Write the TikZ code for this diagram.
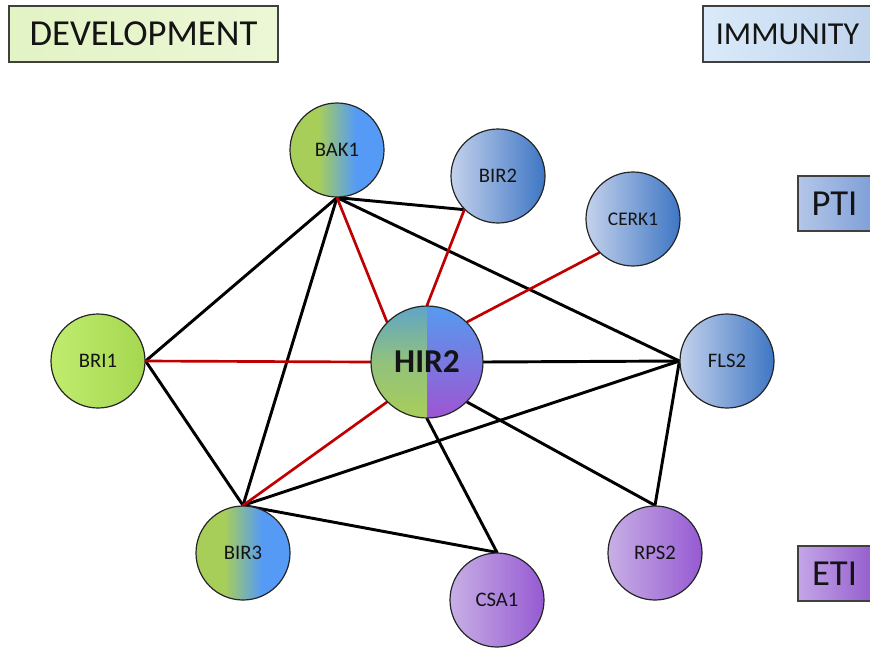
\documentclass[tikz,border=0pt]{standalone}
\usepackage{fontspec}
\setmainfont{Carlito}
\usetikzlibrary{backgrounds}
\definecolor{nodeG}{RGB}{168,206,90}
\definecolor{nodeB}{RGB}{85,155,245}
\definecolor{briL}{RGB}{192,236,110}
\definecolor{briR}{RGB}{165,215,80}
\definecolor{blL}{RGB}{196,210,236}
\definecolor{blR}{RGB}{62,118,196}
\definecolor{puL}{RGB}{200,175,230}
\definecolor{puR}{RGB}{150,90,210}
\definecolor{hirT}{RGB}{95,165,200}
\definecolor{hirBlue}{RGB}{85,155,240}
\definecolor{hirPurple}{RGB}{158,85,210}
\definecolor{devL}{RGB}{226,243,196}
\definecolor{devR}{RGB}{236,247,214}
\definecolor{immL}{RGB}{218,234,250}
\definecolor{immR}{RGB}{192,212,236}
\definecolor{ptiL}{RGB}{180,198,232}
\definecolor{ptiR}{RGB}{128,160,216}
\definecolor{etiL}{RGB}{196,166,232}
\definecolor{etiR}{RGB}{150,95,206}
\definecolor{redE}{RGB}{192,0,0}
\definecolor{txt}{RGB}{20,20,20}
\pgfdeclarehorizontalshading{gbshade}{100bp}{color(0bp)=(nodeG); color(40bp)=(nodeG); color(60bp)=(nodeB); color(100bp)=(nodeB)}
\begin{document}
\begin{tikzpicture}[x=0.75pt,y=-0.75pt,
  prot/.style={circle, draw=black!85, line width=0.9pt, minimum size=70.5pt, inner sep=0pt, text=txt, font=\fontsize{15.5}{18}\selectfont},
  gbnode/.style={prot, shade, shading=gbshade},
  grnode/.style={prot, left color=briL, right color=briR},
  blnode/.style={prot, left color=blL, right color=blR},
  punode/.style={prot, left color=puL, right color=puR},
  lbox/.style={draw=black!75, line width=0.8pt, inner sep=0pt, minimum height=42pt, text=txt, font=\fontsize{27.5}{32}\selectfont},
  blk/.style={draw=black, line width=2.2pt, line cap=round},
  red/.style={draw=redE, line width=2pt, line cap=round}]
\useasboundingbox (0,0) rectangle (870,647);
\clip (0,0) rectangle (870,647);
% label boxes
\node[lbox, minimum width=201.75pt, left color=devL, right color=devR] (dev) at (143.5,34) {DEVELOPMENT};
\node[lbox, minimum width=126.75pt, left color=immL, right color=immR, font=\fontsize{24}{28}\selectfont] (imm) at (787.5,34) {IMMUNITY};
\node[lbox, minimum width=54.75pt, minimum height=41.25pt, left color=ptiL, right color=ptiR] (pti) at (834.5,203.5) {PTI};
\node[lbox, minimum width=54.75pt, minimum height=41.25pt, left color=etiL, right color=etiR] (eti) at (834.5,573.5) {ETI};
% proteins
\node[gbnode] (BAK1) at (337,150) {BAK1};
\node[gbnode] (BIR3) at (243,553) {BIR3};
\node[grnode] (BRI1) at (98,361) {BRI1};
\node[blnode] (BIR2) at (498,176) {BIR2};
\node[blnode, font=\fontsize{14.5}{17}\selectfont] (CERK1) at (633,219) {CERK1};
\node[blnode] (FLS2) at (727,361) {FLS2};
\node[punode] (RPS2) at (655,553) {RPS2};
\node[punode] (CSA1) at (497,600) {CSA1};
\node[prot, minimum size=84pt, font=\fontsize{25}{28}\selectfont\bfseries,
  path picture={
    \shade[top color=hirT, bottom color=nodeG, middle color=nodeG!70!hirT]
      (path picture bounding box.north west) rectangle (path picture bounding box.south);
    \shade[top color=hirBlue, bottom color=hirPurple]
      (path picture bounding box.north) rectangle (path picture bounding box.south east);
  }] (HIR2) at (427,362) {HIR2};
% connectors
\begin{scope}[on background layer]
\draw[blk] (BAK1.south) -- (BRI1.east);
\draw[blk] (BAK1.south) -- (BIR3.north);
\draw[blk] (BAK1.south) -- (BIR2.225);
\draw[blk] (BAK1.south) -- (FLS2.west);
\draw[blk] (BRI1.east) -- (BIR3.north);
\draw[blk] (BIR3.north) -- (FLS2.west);
\draw[blk] (BIR3.north) -- (CSA1.north);
\draw[blk] (HIR2.south) -- (CSA1.north);
\draw[blk] (HIR2.east) -- (FLS2.west);
\draw[blk] (HIR2.315) -- (RPS2.north);
\draw[blk] (FLS2.west) -- (RPS2.north);
\draw[red] (BAK1.south) -- (HIR2.135);
\draw[red] (BIR2.225) -- (HIR2.north);
\draw[red] (CERK1.225) -- (HIR2.45);
\draw[red] (BRI1.east) -- (HIR2.west);
\draw[red] (BIR3.north) -- (HIR2.225);
\end{scope}
\end{tikzpicture}
\end{document}
